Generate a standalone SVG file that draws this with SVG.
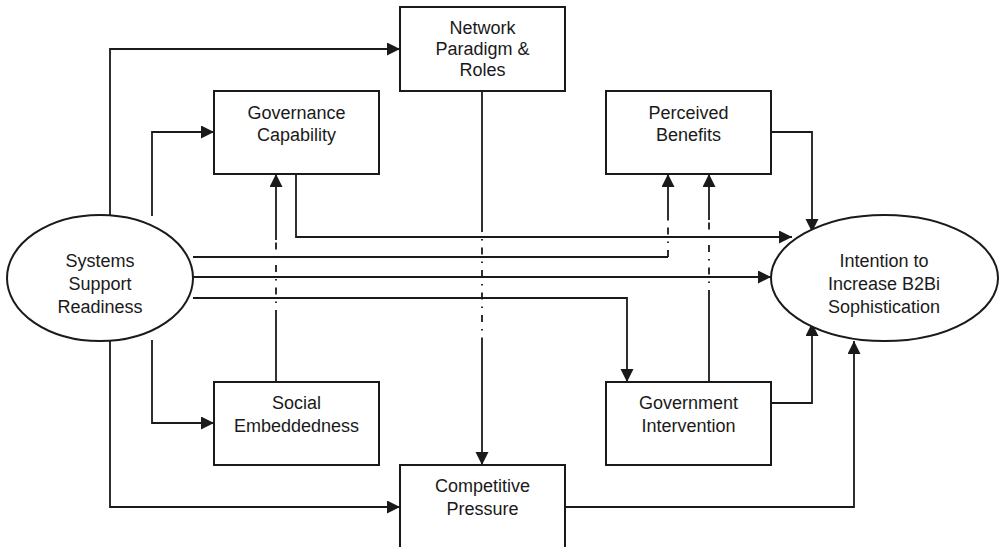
<svg xmlns="http://www.w3.org/2000/svg" width="1000" height="547" viewBox="0 0 1000 547">
<style>
.box{fill:#fff;stroke:#1a1a1a;stroke-width:2}
.lbl{font-family:"Liberation Sans",Arial,sans-serif;font-size:18px;fill:#1a1a1a;text-anchor:middle}
.c{fill:none;stroke:#1a1a1a;stroke-width:1.8}
.dd{fill:none;stroke:#1a1a1a;stroke-width:1.8;stroke-dasharray:7 7 1.5 7}
</style>
<defs>
<marker id="ah" markerUnits="userSpaceOnUse" markerWidth="14" markerHeight="14" refX="13" refY="6.5" orient="auto">
<path d="M0,0 L13,6.5 L0,13 z" fill="#1a1a1a"/>
</marker>
</defs>
<g id="connectors">
<path class="c" d="M110,215 V49 H400" marker-end="url(#ah)"/>
<path class="c" d="M152,216 V132 H214" marker-end="url(#ah)"/>
<path class="c" d="M296,174 V237 H792" marker-end="url(#ah)"/>
<path class="c" d="M193,257 H668"/>
<path class="dd" d="M668,257 V220"/>
<path class="c" d="M668,220 V174" marker-end="url(#ah)"/>
<path class="c" d="M193,277 H771" marker-end="url(#ah)"/>
<path class="c" d="M193,298 H627 V382" marker-end="url(#ah)"/>
<path class="c" d="M709,382 V297"/>
<path class="dd" d="M709,297 V220"/>
<path class="c" d="M709,220 V174" marker-end="url(#ah)"/>
<path class="c" d="M276,382 V317"/>
<path class="dd" d="M276,317 V240"/>
<path class="c" d="M276,240 V174" marker-end="url(#ah)"/>
<path class="c" d="M482,91 V225"/>
<path class="dd" d="M482,225 V338"/>
<path class="c" d="M482,338 V465" marker-end="url(#ah)"/>
<path class="c" d="M152,340 V423 H214" marker-end="url(#ah)"/>
<path class="c" d="M110,341 V507 H400" marker-end="url(#ah)"/>
<path class="c" d="M771,132 H812 V232" marker-end="url(#ah)"/>
<path class="c" d="M771,403 H812 V323" marker-end="url(#ah)"/>
<path class="c" d="M565,507 H854 V341" marker-end="url(#ah)"/>
</g>
<g id="systems">
<ellipse class="box" cx="100" cy="278" rx="93" ry="63"/>
<text class="lbl" x="100" y="267">Systems</text>
<text class="lbl" x="100" y="290">Support</text>
<text class="lbl" x="100" y="313">Readiness</text>
</g>
<g id="intention">
<ellipse class="box" cx="884.5" cy="278" rx="113.5" ry="63"/>
<text class="lbl" x="884" y="267">Intention to</text>
<text class="lbl" x="884" y="290">Increase B2Bi</text>
<text class="lbl" x="884" y="313">Sophistication</text>
</g>
<g id="network">
<rect class="box" x="400" y="7" width="165" height="84"/>
<text class="lbl" x="482.5" y="34">Network</text>
<text class="lbl" x="482.5" y="55">Paradigm &amp;</text>
<text class="lbl" x="482.5" y="76">Roles</text>
</g>
<g id="governance">
<rect class="box" x="214" y="91" width="165" height="83"/>
<text class="lbl" x="296.5" y="119">Governance</text>
<text class="lbl" x="296.5" y="141">Capability</text>
</g>
<g id="perceived">
<rect class="box" x="606" y="91" width="165" height="83"/>
<text class="lbl" x="688.5" y="119">Perceived</text>
<text class="lbl" x="688.5" y="141">Benefits</text>
</g>
<g id="social">
<rect class="box" x="214" y="382" width="165" height="83"/>
<text class="lbl" x="296.5" y="409">Social</text>
<text class="lbl" x="296.5" y="432">Embeddedness</text>
</g>
<g id="government">
<rect class="box" x="606" y="382" width="165" height="83"/>
<text class="lbl" x="688.5" y="409">Government</text>
<text class="lbl" x="688.5" y="432">Intervention</text>
</g>
<g id="competitive">
<rect class="box" x="400" y="465" width="165" height="90"/>
<text class="lbl" x="482.5" y="492">Competitive</text>
<text class="lbl" x="482.5" y="515">Pressure</text>
</g>
</svg>
